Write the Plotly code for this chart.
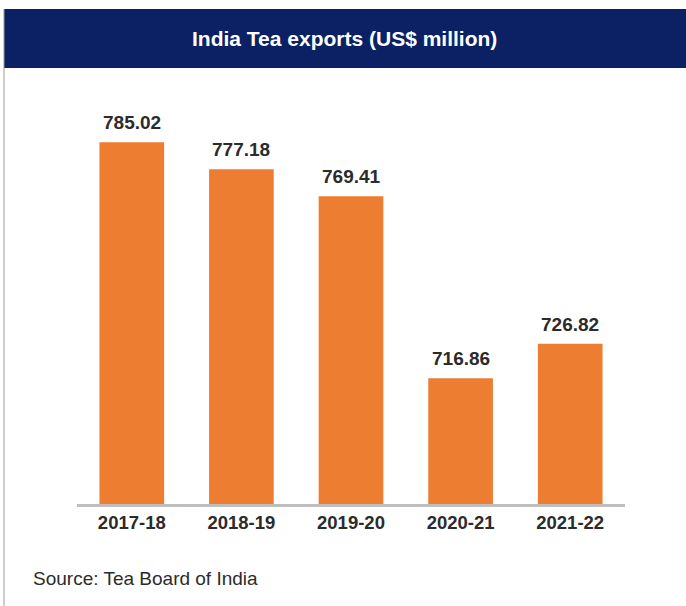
import plotly.graph_objects as go

# India tea exports, US$ million
years = ["2017-18", "2018-19", "2019-20", "2020-21", "2021-22"]
exports = [785.02, 777.18, 769.41, 716.86, 726.82]
labels = ["785.02", "777.18", "769.41", "716.86", "726.82"]

TITLE = "India Tea exports (US$ million)"
SOURCE = "Source: Tea Board of India"

ORANGE = "#ED7D31"
NAVY = "#0C2163"
INK = "#2B2B2B"

fig = go.Figure(
    go.Bar(
        x=years,
        y=exports,
        marker=dict(color=ORANGE, line=dict(width=0)),
        hoverinfo="skip",
    )
)

# value labels above each bar
for yr, val, lab in zip(years, exports, labels):
    fig.add_annotation(
        x=yr, y=val, text=lab, showarrow=False,
        yanchor="bottom", yshift=7,
        font=dict(family="Liberation Sans, Arial", size=19, color=INK, weight="bold"),
    )

# header band + frame line on the left
fig.add_shape(type="rect", xref="paper", yref="paper",
              x0=-0.1332, x1=1.15, y0=1.0283, y1=1.1675,
              fillcolor=NAVY, line=dict(width=0), layer="below")
fig.add_shape(type="line", xref="paper", yref="paper",
              x0=-0.1332, x1=-0.1332, y0=-0.3, y1=1.1675,
              line=dict(color="#9A9A9A", width=1))

fig.add_annotation(
    xref="paper", yref="paper", x=0.489, y=1.098,
    text=TITLE, showarrow=False, xanchor="center", yanchor="middle",
    font=dict(family="Liberation Sans, Arial", size=21, color="white", weight="bold"),
)
fig.add_annotation(
    xref="paper", yref="paper", x=-0.084, y=-0.175,
    text=SOURCE, showarrow=False, xanchor="left", yanchor="middle",
    font=dict(family="Liberation Sans, Arial", size=19, color=INK),
)

fig.update_layout(
    width=686, height=606,
    margin=dict(l=77, r=61, t=80, b=102),
    paper_bgcolor="white", plot_bgcolor="white",
    bargap=0.41,
    showlegend=False,
    xaxis=dict(
        showgrid=False, showline=True, linecolor="#BFBFBF", linewidth=3,
        ticks="", tickfont=dict(family="Liberation Sans, Arial", size=18.5, color=INK, weight="bold"),
    ),
    yaxis=dict(range=[680.5, 803], visible=False, showgrid=False, zeroline=False),
)

# drop the default 8px page margin so the figure sits at the window corner
fig.write_html("out.html", config={"displayModeBar": False},
               post_script="document.body.style.margin='0';")
